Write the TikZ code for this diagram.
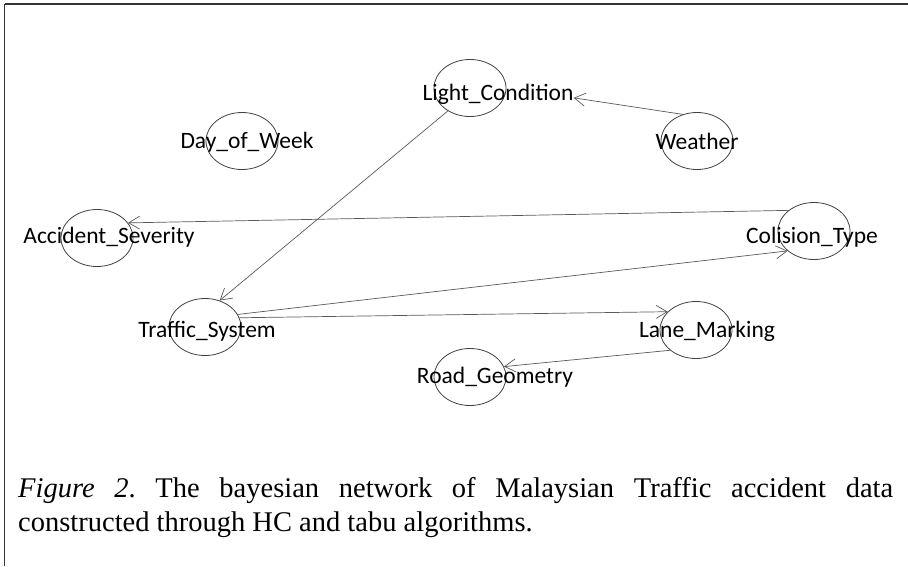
\documentclass[tikz,border=0pt]{standalone}
\usepackage{fontspec}
\setmainfont{Liberation Serif}
\newfontfamily\labelfont{Carlito}
\usetikzlibrary{arrows.meta,shapes.geometric}

\tikzset{
  var/.style={draw=black!75, line width=0.8pt, ellipse, minimum width=72pt,
              minimum height=57pt, inner sep=0pt},
  vlabel/.style={anchor=base, inner sep=0pt, font=\labelfont\fontsize{23.5}{26}\selectfont},
  edge/.style={draw=black!65, line width=0.7pt,
               -{Straight Barb[length=11pt,width=13pt,line width=0.7pt]}},
  frame/.style={draw=black!80},
  captext/.style={anchor=base west, inner sep=0pt, font=\frenchspacing\fontsize{28.5}{32}\selectfont}
}

\begin{document}
\begin{tikzpicture}[x=1pt,y=-1pt]
  \useasboundingbox (0,0) rectangle (908,566);

  % open frame: top and left rules only
  \coordinate (fTL) at (4.5,4);
  \coordinate (fTR) at (908,4);
  \coordinate (fBL) at (4.5,566);
  \draw[frame, line width=2pt] (fTL) -- (fTR);
  \draw[frame, line width=1.8pt] (fTL) -- (fBL);

  % variable ellipses
  \node[var] (LC) at (470,88)  {};
  \node[var] (WE) at (697,141) {};
  \node[var] (DW) at (242,141) {};
  \node[var] (AS) at (97,238)  {};
  \node[var] (CT) at (814,231) {};
  \node[var] (TS) at (205,327) {};
  \node[var] (LM) at (696,330) {};
  \node[var] (RG) at (470,377) {};

  % variable names (placed on their baselines)
  \node[vlabel] (LCt) at (498,100)   {Light\_Condition};
  \node[vlabel] (WEt) at (697,149.5) {Weather};
  \node[vlabel] (DWt) at (247,148.5) {Day\_of\_Week};
  \node[vlabel] (ASt) at (109,243)   {Accident\_Severity};
  \node[vlabel] (CTt) at (812,243)   {Colision\_Type};
  \node[vlabel] (TSt) at (207,337)   {Traffic\_System};
  \node[vlabel] (LMt) at (707,337)   {Lane\_Marking};
  \node[vlabel] (RGt) at (495,383.5) {Road\_Geometry};

  % directed dependencies
  \draw[edge] (WE.118)   -- (LCt.-3);
  \draw[edge] (LC.-134)  -- (TS.61);
  \draw[edge] (CT.141)   -- (AS.26);
  \draw[edge] (TS.21)    -- (CT.-143);
  \draw[edge] (TS.15)    -- (LM.147);
  \draw[edge] (LM.-142)  -- (RG.17);

  % caption
  \node[captext] (cap1) at (18,497)
    {\makebox[875pt][s]{\textit{Figure 2}. The bayesian network of Malaysian Traffic accident data}};
  \node[captext] (cap2) at (18,531)
    {constructed through HC and tabu algorithms.};
\end{tikzpicture}
\end{document}
